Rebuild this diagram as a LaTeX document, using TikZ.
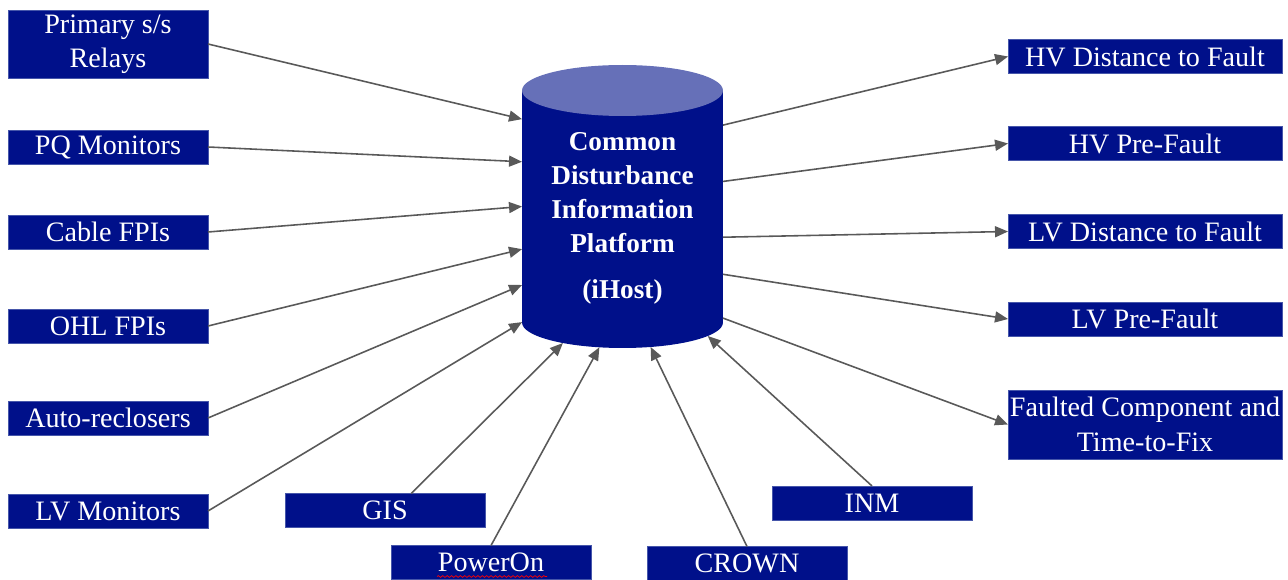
\documentclass[tikz,border=0pt]{standalone}
\usepackage{fontspec}
\setmainfont{Liberation Serif}
\usetikzlibrary{arrows.meta,shapes.geometric,decorations.pathmorphing}
\definecolor{boxblue}{RGB}{0,16,138}
\definecolor{boxedge}{RGB}{70,86,170}
\definecolor{captop}{RGB}{102,112,184}
\definecolor{linegray}{RGB}{89,89,89}
\begin{document}
\begin{tikzpicture}[x=0.02cm,y=-0.02cm,
	src node/.style={rectangle,draw=boxedge,fill=boxblue,text=white,font=\fontsize{16}{19.5}\selectfont,minimum width=4cm,minimum height=0.68cm,inner sep=1pt,outer sep=0pt,align=center},
	out node/.style={src node,minimum width=5.48cm},
	end node/.style={ellipse,inner sep=0pt,outer sep=0pt,minimum width=4.02cm,minimum height=1.02cm},
	feed/.style={color=linegray,line width=0.9pt,-{Triangle[length=2.6mm,width=2.2mm]}}]
		\useasboundingbox (0,0) rectangle (1288,580);
		% the platform drum
		\node[end node,fill=boxblue] (base) at (622.5,322.5) {};
		\node[rectangle,fill=boxblue,inner sep=0pt,outer sep=0pt,minimum width=4.02cm,minimum height=4.64cm] (cdip) at (622.5,206.5) {};
		\node[end node,fill=captop] (cap) at (622.5,90.5) {};
		\node[text=white,font=\bfseries\fontsize{15.5}{19.4}\selectfont,align=center] (lbl) at (622.5,218.5) {Common\\Disturbance\\Information\\Platform\\[7pt](iHost)};
		% sources
		\node[src node,minimum height=1.36cm] (1) at (108,44) {Primary s/s\\Relays};
		\node[src node] (2) at (108,147) {PQ Monitors};
		\node[src node] (3) at (108,232) {Cable FPIs};
		\node[src node] (4) at (108,326) {OHL FPIs};
		\node[src node] (5) at (108,418) {Auto-reclosers};
		\node[src node] (6) at (108,511) {LV Monitors};
		\node[src node] (7) at (385,510.5) {GIS};
		\node[src node] (8) at (491,562.5) {PowerOn};
		\node[src node] (9) at (747,563.5) {CROWN};
		\node[src node] (10) at (872,503) {INM};
		% outputs
		\node[out node] (11) at (1145,56.5) {HV Distance to Fault};
		\node[out node] (12) at (1145,143.5) {HV Pre-Fault};
		\node[out node] (13) at (1145,231.5) {LV Distance to Fault};
		\node[out node] (14) at (1145,319) {LV Pre-Fault};
		\node[out node,minimum height=1.38cm] (15) at (1145,424.5) {Faulted Component and\\Time-to-Fix};
		\draw[red,decorate,decoration={snake,amplitude=0.5pt,segment length=2.5pt}] (437,576.5) -- (547,576.5);
		\path[feed]
		(1.east) edge (cdip.139)
		(2.east) edge (cdip.156)
		(3.east) edge (cdip.180)
		(4.east) edge (cdip.203)
		(5.east) edge (cdip.218)
		(6.east) edge (cdip.229)
		(7.33) edge (base.199)
		(8.north) edge (base.227)
		(9.north) edge (base.319)
		(10.north) edge (base.351)
		(cdip.39) edge (11.west)
		(cdip.14) edge (12.west)
		(cdip.343) edge (13.west)
		(cdip.326) edge (14.west)
		(cdip.312) edge (15.west);
\end{tikzpicture}
\end{document}
